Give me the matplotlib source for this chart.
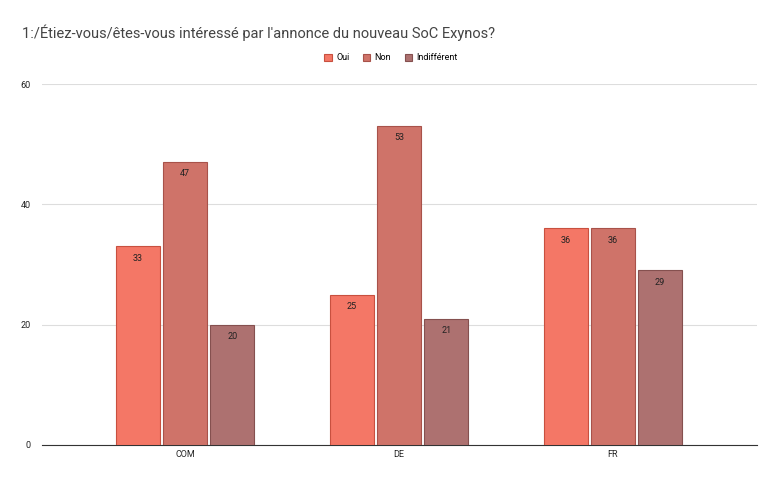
import numpy as np
import matplotlib.pyplot as plt

categories = ['COM', 'DE', 'FR']
series_names = ['Oui', 'Non', 'Indifférent']
oui = [33, 25, 36]
non = [47, 53, 36]
indiff = [20, 21, 29]
colors = ['#F47766', '#CF7369', '#AD7170']
edges = ['#C8503F', '#A8524A', '#85504F']

plt.rcParams['font.family'] = 'Roboto'
fig = plt.figure(figsize=(7.82, 4.83), dpi=100)
ax = fig.add_axes([0.054, 0.079, 0.914, 0.747])

x = np.arange(len(categories))
w = 0.206
for i, (vals, name) in enumerate(zip([oui, non, indiff], series_names)):
    pos = x + (i - 1) * 0.22
    bars = ax.bar(pos, vals, w, color=colors[i], edgecolor=edges[i], linewidth=0.8, label=name, zorder=3)
    for b, v in zip(bars, vals):
        ax.text(b.get_x() + b.get_width() / 2, v - 1.2, str(v), ha='center', va='top', fontsize=6.5, color='#222222', zorder=4)

ax.set_xlim(-0.668, 2.673)
ax.set_ylim(0, 60)
ax.set_yticks([0, 20, 40, 60])
ax.set_xticks(x)
ax.set_xticklabels(categories)
ax.tick_params(axis='both', length=0, labelsize=6.5, colors='#222222')
ax.tick_params(axis='y', pad=8)
ax.grid(axis='y', color='#DDDDDD', linewidth=0.8, zorder=0)
for s in ['top', 'right', 'left']:
    ax.spines[s].set_visible(False)
ax.spines['bottom'].set_color('#333333')

fig.text(0.028, 0.932, "1:/Étiez-vous/êtes-vous intéressé par l'annonce du nouveau SoC Exynos?", fontsize=10.5, color='#444444', va='center')
fig.legend(loc='center', bbox_to_anchor=(0.5, 0.88), ncol=3, frameon=False, fontsize=6.5,
           handlelength=0.8, handleheight=0.8, columnspacing=1.5, handletextpad=0.5)

fig.savefig('out.png', dpi=100)
